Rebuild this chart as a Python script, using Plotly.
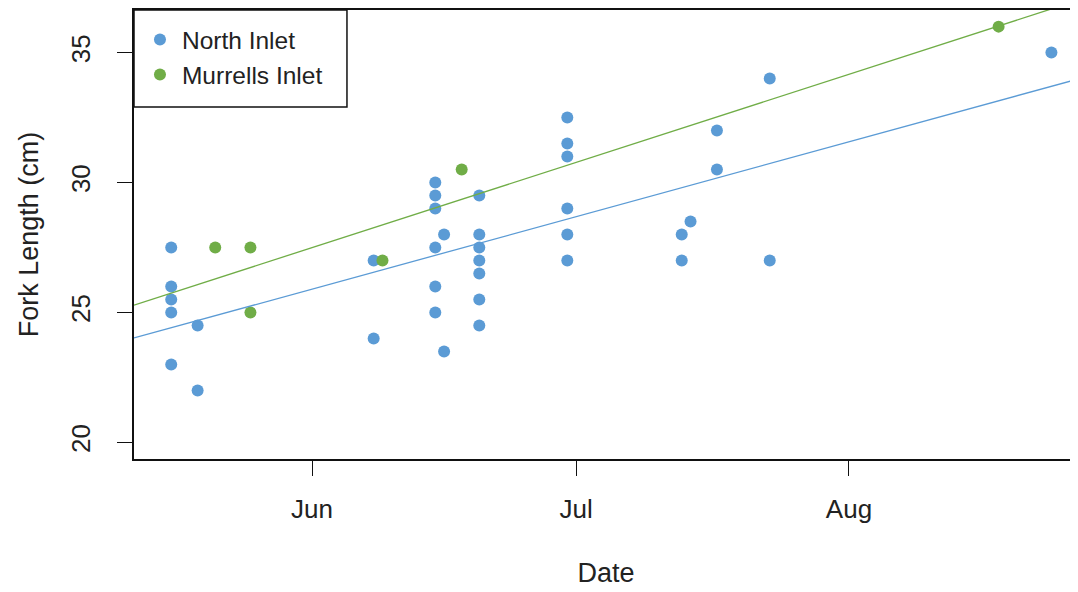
import numpy as np
import pandas as pd
import plotly.graph_objects as go

# ---- data ----
north_dates = ["2015-05-16"] * 5 + ["2015-05-19"] * 2 + ["2015-06-08"] * 2 + ["2015-06-15"] * 6 + \
              ["2015-06-16"] * 2 + ["2015-06-20"] * 7 + ["2015-06-30"] * 6 + ["2015-07-13"] * 2 + \
              ["2015-07-14"] + ["2015-07-17"] * 2 + ["2015-07-23"] * 2 + ["2015-08-24"]
north_length = [27.5, 26, 25.5, 25, 23,
                24.5, 22,
                27, 24,
                30, 29.5, 29, 27.5, 26, 25,
                28, 23.5,
                29.5, 28, 27.5, 27, 26.5, 25.5, 24.5,
                32.5, 31.5, 31, 29, 28, 27,
                28, 27,
                28.5,
                32, 30.5,
                34, 27,
                35]

murrells_dates = ["2015-05-21", "2015-05-25", "2015-05-25", "2015-06-09", "2015-06-18", "2015-08-18"]
murrells_length = [27.5, 27.5, 25, 27, 30.5, 36]

tick_dates = ["2015-06-01", "2015-07-01", "2015-08-01"]
tick_labels = ["Jun", "Jul", "Aug"]
y_ticks = [20, 25, 30, 35]

x_range = ["2015-05-11 18:30", "2015-08-27 00:30"]
y_range = [19.36, 36.64]

BLUE = "#5B9BD5"
GREEN = "#70AD47"
FONT = "Liberation Sans, Arial, sans-serif"

def fit_line(dates, vals):
    d = pd.to_datetime(dates)
    t = (d - pd.Timestamp("2015-01-01")) / pd.Timedelta(days=1)
    slope, icpt = np.polyfit(t.values.astype(float), np.asarray(vals, float), 1)
    xr = pd.to_datetime(x_range)
    tr = ((xr - pd.Timestamp("2015-01-01")) / pd.Timedelta(days=1)).values.astype(float)
    return list(xr), list(icpt + slope * tr)

fig = go.Figure()
fig.add_trace(go.Scatter(x=pd.to_datetime(north_dates), y=north_length, mode="markers",
                         name="North Inlet", legendgroup="n",
                         marker=dict(color=BLUE, size=12)))
fig.add_trace(go.Scatter(x=pd.to_datetime(murrells_dates), y=murrells_length, mode="markers",
                         name="Murrells Inlet", legendgroup="m",
                         marker=dict(color=GREEN, size=12)))
lx, ly = fit_line(north_dates, north_length)
fig.add_trace(go.Scatter(x=lx, y=ly, mode="lines", line=dict(color=BLUE, width=1.3),
                         showlegend=False, hoverinfo="skip"))
lx, ly = fit_line(murrells_dates, murrells_length)
fig.add_trace(go.Scatter(x=lx, y=ly, mode="lines", line=dict(color=GREEN, width=1.3),
                         showlegend=False, hoverinfo="skip"))

# legend frame (R-style box with generous padding)
fig.add_shape(type="rect", xref="paper", yref="paper", x0=0, x1=0.2256, y0=0.784, y1=1,
              line=dict(color="#111", width=1.5), fillcolor="white", layer="above")

fig.update_layout(
    width=1070, height=584,
    margin=dict(l=126, r=0, t=2, b=133),
    paper_bgcolor="white", plot_bgcolor="white",
    font=dict(family=FONT, size=26, color="#222"),
    legend=dict(x=0.0042, y=0.984, xanchor="left", yanchor="top",
                borderwidth=0, bgcolor="rgba(0,0,0,0)",
                font=dict(size=24.5), tracegroupgap=0, itemwidth=34,
                itemsizing="constant"),
    showlegend=True,
)
fig.update_xaxes(type="date", range=x_range, tickvals=pd.to_datetime(tick_dates), ticktext=tick_labels,
                 showgrid=False, zeroline=False, showline=True, linecolor="#111", linewidth=1.5,
                 mirror=True, ticks="outside", ticklen=15, tickcolor="#111", tickwidth=1.2,
                 ticklabelstandoff=11, tickfont=dict(size=26),
                 title=dict(text="Date", font=dict(size=27), standoff=40))
fig.update_yaxes(range=y_range, tickvals=y_ticks, showgrid=False, zeroline=False,
                 showline=True, linecolor="#111", linewidth=1.5, mirror=False,
                 ticks="outside", ticklen=15, tickcolor="#111", tickwidth=1.2,
                 tickangle=-90, ticklabelstandoff=17, tickfont=dict(size=26),
                 title=dict(text="Fork Length (cm)", font=dict(size=27), standoff=19))

fig.write_html("out.html")
